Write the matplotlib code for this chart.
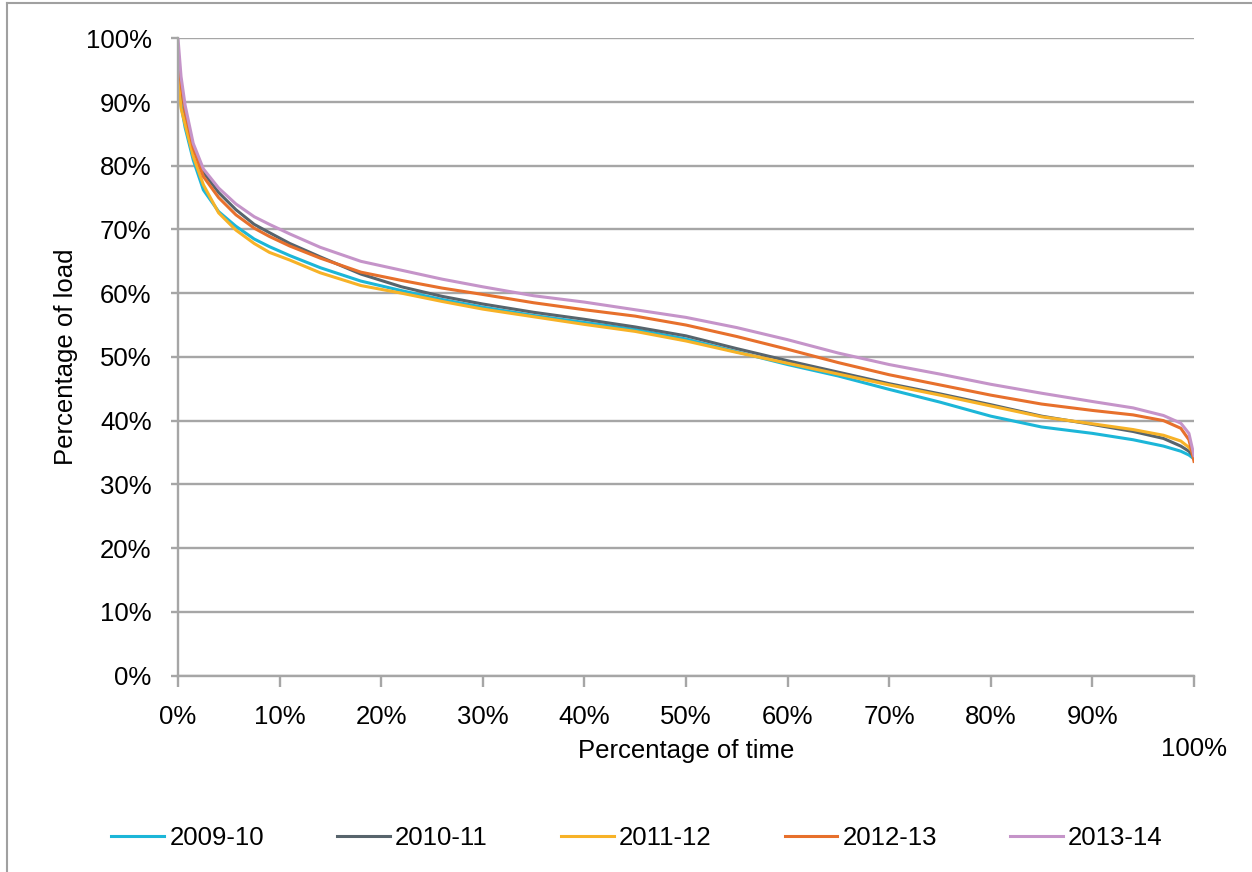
import matplotlib.pyplot as plt
from matplotlib.lines import Line2D
from matplotlib.ticker import FixedLocator

plt.rcParams['font.family'] = ['Liberation Sans', 'DejaVu Sans']

# 数据: 持续时间百分比 (x) 与负荷百分比 (y)
time_pct = [0, 0.3, 0.7, 1.5, 2.5, 4, 5.7, 7.5, 9, 11, 14, 18, 22, 26, 30, 35, 40,
            45, 50, 55, 60, 65, 70, 75, 80, 85, 90, 94, 97, 98.7, 99.5, 100]

load_0910 = [94.5, 89.5, 86.0, 80.9, 76.2, 72.8, 70.5, 68.5, 67.3, 65.9, 64.0, 61.9,
             60.4, 59.0, 57.8, 56.5, 55.4, 54.3, 52.8, 50.8, 48.8, 47.0, 44.9, 42.9,
             40.7, 39.0, 38.0, 37.0, 36.0, 35.2, 34.6, 34.0]
load_1011 = [98.0, 92.5, 88.5, 83.0, 79.0, 75.8, 73.1, 70.8, 69.5, 67.8, 65.7, 63.0,
             61.0, 59.5, 58.3, 57.0, 55.9, 54.7, 53.3, 51.3, 49.4, 47.6, 45.8, 44.2,
             42.5, 40.7, 39.4, 38.3, 37.2, 36.0, 35.2, 34.3]
load_1112 = [94.0, 89.0, 86.5, 81.5, 77.0, 72.6, 69.9, 67.8, 66.4, 65.2, 63.2, 61.2,
             60.0, 58.7, 57.5, 56.3, 55.1, 54.0, 52.5, 50.7, 49.0, 47.3, 45.6, 44.0,
             42.3, 40.6, 39.5, 38.6, 37.7, 36.8, 35.8, 34.8]
load_1213 = [97.0, 93.0, 88.5, 82.8, 78.3, 75.0, 72.3, 70.2, 68.9, 67.4, 65.5, 63.3,
             62.0, 60.8, 59.8, 58.5, 57.4, 56.4, 55.0, 53.2, 51.2, 49.1, 47.2, 45.6,
             44.0, 42.6, 41.6, 40.9, 40.0, 38.8, 37.0, 33.6]
load_1314 = [100.0, 94.0, 89.5, 83.5, 79.5, 76.5, 74.0, 72.0, 70.8, 69.3, 67.2, 65.0,
             63.6, 62.2, 61.0, 59.6, 58.6, 57.4, 56.2, 54.6, 52.7, 50.6, 48.8, 47.3,
             45.7, 44.3, 43.0, 42.0, 40.8, 39.6, 38.0, 34.5]

series_names = ['2009-10', '2010-11', '2011-12', '2012-13', '2013-14']
series_colors = ['#1CB6D8', '#57646C', '#F7B227', '#E7702C', '#C594C9']

x_ticks = [0, 10, 20, 30, 40, 50, 60, 70, 80, 90, 100]
y_ticks = [0, 10, 20, 30, 40, 50, 60, 70, 80, 90, 100]

W, H = 1252, 872
fig = plt.figure(figsize=(W / 100, H / 100), dpi=100)
ax = fig.add_axes([178 / W, 1 - 675.5 / H, (1194 - 178) / W, (675.5 - 38.3) / H])

series = [load_0910, load_1011, load_1112, load_1213, load_1314]
for name, vals, col in zip(series_names, series, series_colors):
    ax.plot(time_pct, vals, color=col, lw=2.2, label=name, solid_joinstyle='round')

ax.set_xlim(0, 100)
ax.set_ylim(0, 100)

# 网格线
grid_c = '#A6A6A6'
ax.yaxis.set_major_locator(FixedLocator(y_ticks))
ax.grid(axis='y', color=grid_c, lw=1.7)
ax.set_axisbelow(True)
for s in ['top', 'right']:
    ax.spines[s].set_visible(False)
ax.spines['left'].set_color(grid_c)
ax.spines['left'].set_linewidth(1.7)
ax.spines['bottom'].set_color(grid_c)
ax.spines['bottom'].set_linewidth(1.7)

ax.set_yticklabels([f'{v}%' for v in y_ticks], fontsize=18.5)
ax.tick_params(axis='y', length=5, width=1.7, color=grid_c, pad=14)

# 100% 的横轴标签位置偏低, 单独写
ax.set_xticks(x_ticks)
ax.set_xticklabels([f'{v}%' for v in x_ticks[:-1]] + [''], fontsize=18.5)
ax.tick_params(axis='x', length=8, width=1.7, color=grid_c, pad=13)
ax.text(100, -11.5, '100%', fontsize=18.5, ha='center', va='center')

fig.text(686 / W, 1 - 751 / H, 'Percentage of time', fontsize=18.5, ha='center', va='center')
fig.text(66 / W, 1 - 357 / H, 'Percentage of load', fontsize=18.5, ha='center',
         va='center', rotation=90)

fig.legend(loc='center', bbox_to_anchor=(637 / W, 1 - 838 / H), ncol=5, frameon=False,
           fontsize=18.5, handlelength=2.05, handletextpad=0.2, columnspacing=2.85)

# 图框
bc = '#A0A0A0'
fig.add_artist(Line2D([7 / W, 7 / W], [0, 1 - 3 / H], color=bc, lw=1.5))
fig.add_artist(Line2D([7 / W, 1], [1 - 3 / H, 1 - 3 / H], color=bc, lw=1.5))

fig.savefig('out.png', dpi=100)
